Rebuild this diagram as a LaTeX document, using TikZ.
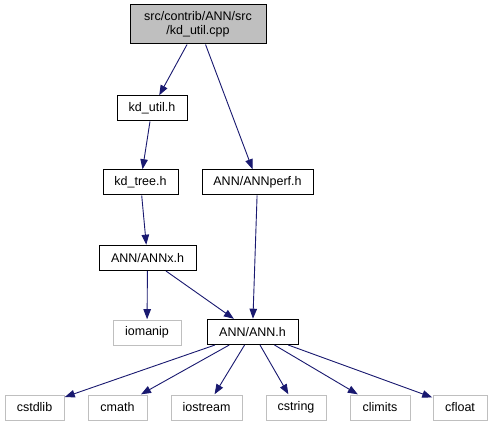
\documentclass[tikz,border=0pt]{standalone}
\usepackage{fontspec}
\setmainfont{Liberation Sans}
\usetikzlibrary{arrows.meta}
\definecolor{edgeblue}{HTML}{191970}
\definecolor{sysgray}{HTML}{BFBFBF}
\tikzset{
  box/.style={draw=black, line width=1pt, fill=white, minimum height=25pt, inner sep=0pt,
    font=\fontsize{12.5}{14}\selectfont, text=black},
  rootbox/.style={box, fill=sysgray, minimum height=39pt, align=center},
  sysbox/.style={box, draw=sysgray},
  dep/.style={draw=edgeblue, line width=0.9pt, -{Triangle[length=10pt,width=7.5pt]}, shorten >=0.3pt}
}
\begin{document}
\begin{tikzpicture}[x=1pt,y=-1pt]
\useasboundingbox[fill=white] (0,0) rectangle (492,427);
\node[rootbox, minimum width=136pt] (root) at (198,24.5) {src/contrib/ANN/src\\/kd\_util.cpp};
\node[box, minimum width=70pt] (kdutil) at (152,108.5) {kd\_util.h};
\node[box, minimum width=75pt] (kdtree) at (140.5,182.5) {kd\_tree.h};
\node[box, minimum width=111pt] (annperf) at (257.5,182.5) {ANN/ANNperf.h};
\node[box, minimum width=97pt] (annx) at (147.5,258) {ANN/ANNx.h};
\node[sysbox, minimum width=68pt] (iomanip) at (147,332.5) {iomanip};
\node[box, minimum width=91pt] (ann) at (252.5,332) {ANN/ANN.h};
\node[sysbox, minimum width=59pt] (cstdlib) at (34.5,407.5) {cstdlib};
\node[sysbox, minimum width=59pt] (cmath) at (117.5,407.5) {cmath};
\node[sysbox, minimum width=71pt] (iostream) at (206.5,407.5) {iostream};
\node[sysbox, minimum width=60pt] (cstring) at (296,407.5) {cstring};
\node[sysbox, minimum width=60pt] (climits) at (380,407.5) {climits};
\node[sysbox, minimum width=54pt] (cfloat) at (460,407.5) {cfloat};
\draw[dep] (root) -- (kdutil);
\draw[dep] (root) -- (annperf);
\draw[dep] (kdutil) -- (kdtree);
\draw[dep] (kdtree) -- (annx);
\draw[dep] (annperf) -- (ann);
\draw[dep] (annx) -- (iomanip);
\draw[dep] (annx) -- (ann);
\draw[dep] (ann) -- (cstdlib);
\draw[dep] (ann) -- (cmath);
\draw[dep] (ann) -- (iostream);
\draw[dep] (ann) -- (cstring);
\draw[dep] (ann) -- (climits);
\draw[dep] (ann) -- (cfloat);
\end{tikzpicture}
\end{document}
